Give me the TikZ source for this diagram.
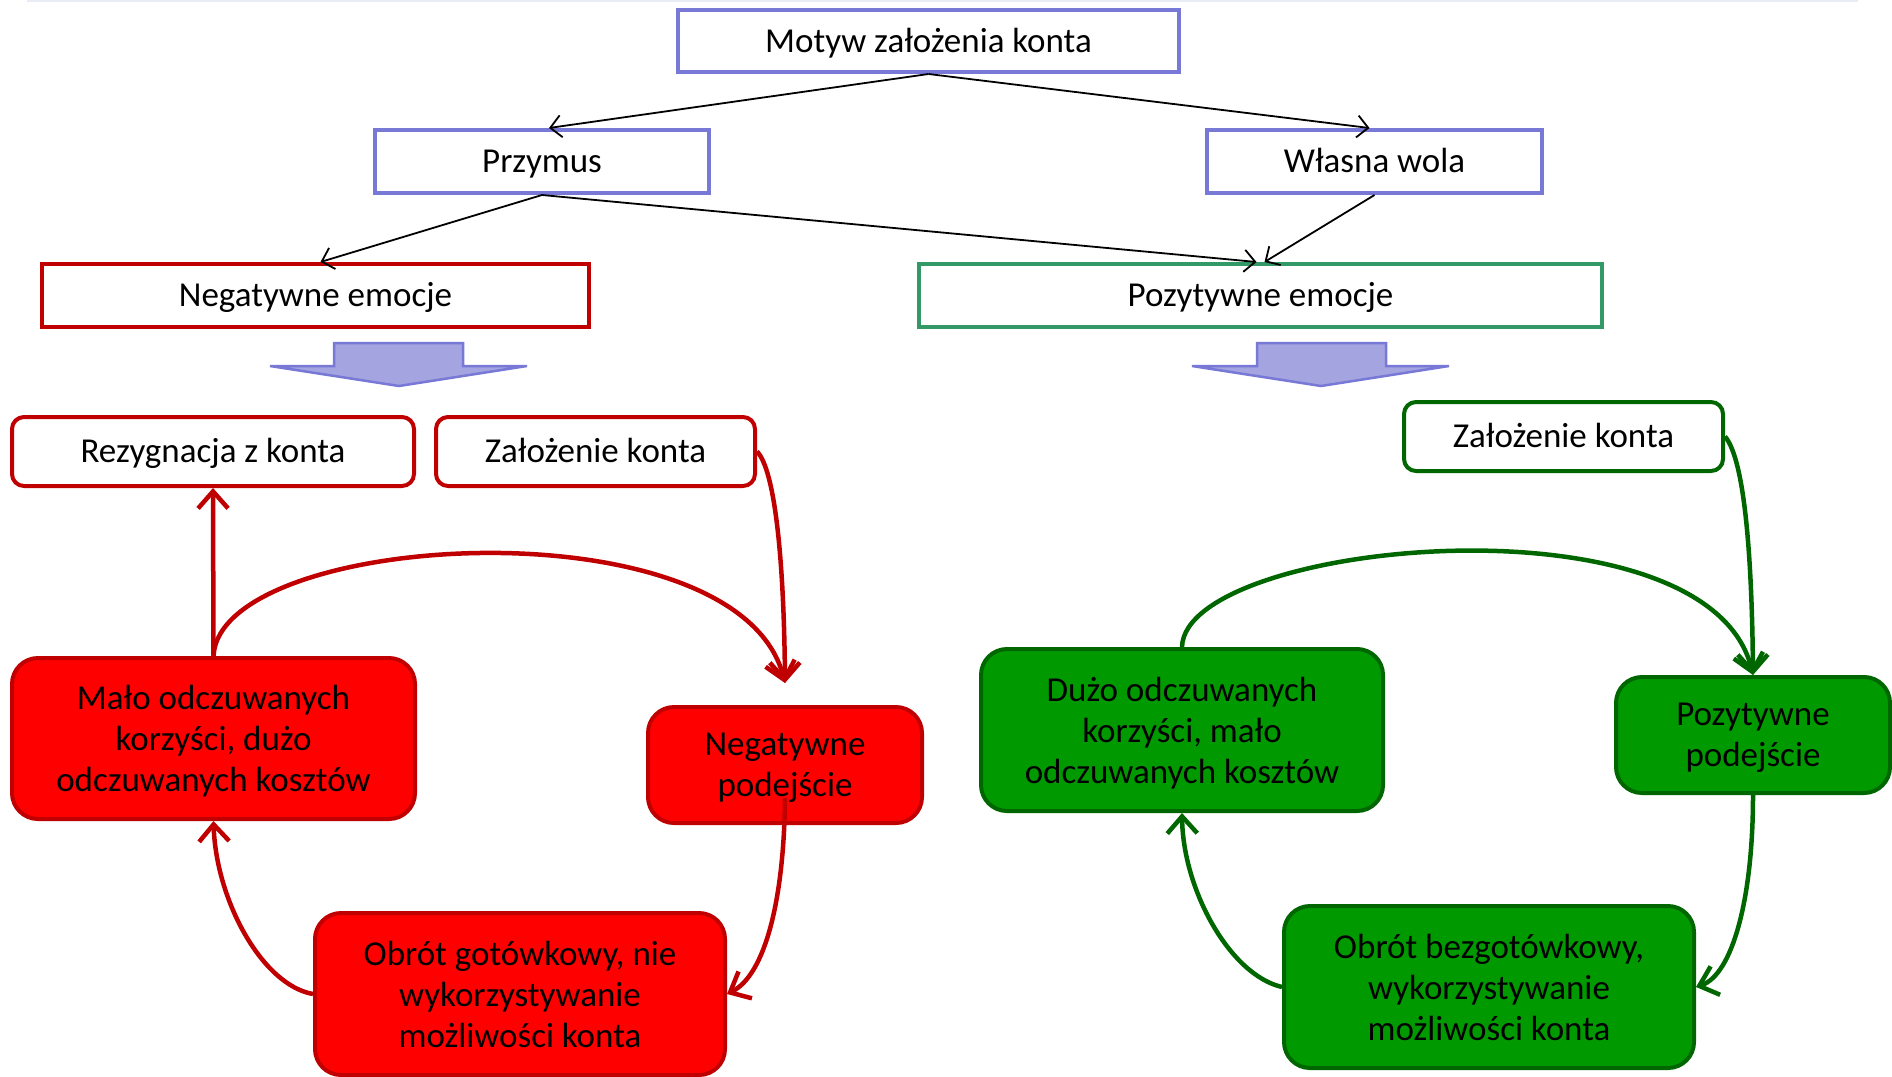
\documentclass[tikz,border=0pt]{standalone}
\usepackage{fontspec}
\setmainfont{Carlito}
\usetikzlibrary{arrows.meta}
\definecolor{bbord}{RGB}{120,120,215}
\definecolor{bfill}{RGB}{164,164,224}
\definecolor{rbord}{RGB}{192,0,0}
\definecolor{rfill}{RGB}{255,0,0}
\definecolor{gfill}{RGB}{0,153,0}
\definecolor{gbord}{RGB}{0,102,0}
\definecolor{tbord}{RGB}{51,153,102}
\definecolor{faint}{RGB}{232,236,244}
\begin{document}
\begin{tikzpicture}[x=1pt,y=-1pt,
  every node/.style={font=\fontsize{35}{41}\selectfont, align=center, inner sep=0pt},
  oneline/.style={text height=30pt, text depth=7.5pt},
  multiline/.style={text depth=0pt},
  topbox/.style={oneline, draw=bbord, line width=4pt, fill=white},
  redbox/.style={oneline, draw=rbord, line width=4pt, fill=white},
  tealbox/.style={oneline, draw=tbord, line width=4pt, fill=white},
  rsmall/.style={oneline, draw=rbord, line width=4pt, fill=white, rounded corners=12pt},
  gsmall/.style={oneline, draw=gbord, line width=4pt, fill=white, rounded corners=12pt},
  rbig/.style={multiline, draw=rbord, line width=4pt, fill=rfill, rounded corners=26pt},
  gbig/.style={multiline, draw=gbord, line width=4pt, fill=gfill, rounded corners=26pt},
  blk/.style={draw=black, line width=1.8pt, -{Straight Barb[length=11pt,width=22pt,line width=1.8pt]}},
  rarr/.style={draw=rbord, line width=4.5pt, -{Straight Barb[length=17pt,width=30pt,line width=4.5pt]}},
  garr/.style={draw=gbord, line width=4.5pt, -{Straight Barb[length=17pt,width=30pt,line width=4.5pt]}},
  bigarrow/.style={draw=bbord, line width=2.5pt, fill=bfill, line join=miter}
]
\useasboundingbox (0,0) rectangle (1892,1076);
\draw[faint, line width=2pt] (27,1) -- (1858,1);

% top level
\node[topbox, minimum width=501pt, minimum height=62pt] (motyw) at (928.5,41) {Motyw założenia konta};
\node[topbox, minimum width=334pt, minimum height=63pt] (przymus) at (542,161.5) {Przymus};
\node[topbox, minimum width=335pt, minimum height=63pt] (wola) at (1374.5,161.5) {Własna wola};
\node[redbox, minimum width=547pt, minimum height=63pt] (negem) at (315.5,295.5) {Negatywne emocje};
\node[tealbox, minimum width=683pt, minimum height=63pt] (pozem) at (1260.5,295.5) {Pozytywne emocje};

\draw[blk] (motyw.south) -- ([xshift=7pt]przymus.north);
\draw[blk] (motyw.south) -- ([xshift=-5pt]wola.north);
\draw[blk] (przymus.south) -- ([xshift=5pt]negem.north);
\draw[blk] (przymus.south) -- ([xshift=-4pt]pozem.north);
\draw[blk] (wola.south) -- ([xshift=4pt]pozem.north);

% big arrows
\draw[bigarrow] (334,343) -- (463,343) -- (463,366) -- (527,366) -- (399,386) -- (270,366) -- (334,366) -- cycle;
\draw[bigarrow] (1257,343) -- (1386,343) -- (1386,366) -- (1449,366) -- (1321,386) -- (1192,366) -- (1257,366) -- cycle;

% red cycle
\node[rsmall, minimum width=402pt, minimum height=69pt] (rez) at (213,451.5) {Rezygnacja z konta};
\node[rsmall, minimum width=319pt, minimum height=69pt] (zalr) at (595.5,451.5) {Założenie konta};
\node[rbig, minimum width=403pt, minimum height=161pt] (malo) at (213.5,738.5) {Mało odczuwanych\\korzyści, dużo\\odczuwanych kosztów};
\node[rbig, minimum width=274pt, minimum height=116pt] (negpod) at (785,765) {Negatywne\\podejście};
\node[rbig, minimum width=410pt, minimum height=162pt] (obrg) at (520,994) {Obrót gotówkowy, nie\\wykorzystywanie\\możliwości konta};
\coordinate (negtip) at ([yshift=22pt]negpod.north);

\draw[rarr] (malo.north) -- (rez.south);
\draw[rarr] (malo.north) .. controls (220,530) and (740,500) .. (negtip);
\draw[rarr] (zalr.east) .. controls (775,470) and (784,560) .. (negtip);
\draw[rarr] ([yshift=27pt]negpod.south) .. controls (784,900) and (765,975) .. (obrg.east);
\draw[rarr] (obrg.west) .. controls (262,985) and (216,900) .. (malo.south);

% green cycle
\node[gsmall, minimum width=319pt, minimum height=69pt] (zalg) at (1563.5,436.5) {Założenie konta};
\node[gbig, minimum width=402pt, minimum height=162pt] (duzo) at (1182,730) {Dużo odczuwanych\\korzyści, mało\\odczuwanych kosztów};
\node[gbig, minimum width=274pt, minimum height=116pt] (pozpod) at (1753,735) {Pozytywne\\podejście};
\node[gbig, minimum width=410pt, minimum height=162pt] (obrb) at (1489,987) {Obrót bezgotówkowy,\\wykorzystywanie\\możliwości konta};

\draw[garr] (duzo.north) .. controls (1185,540) and (1710,490) .. (pozpod.north);
\draw[garr] (zalg.east) .. controls (1745,460) and (1752,560) .. (pozpod.north);
\draw[garr] (pozpod.south) .. controls (1753,900) and (1732,975) .. (obrb.east);
\draw[garr] (obrb.west) .. controls (1230,975) and (1183,890) .. (duzo.south);
\end{tikzpicture}
\end{document}
